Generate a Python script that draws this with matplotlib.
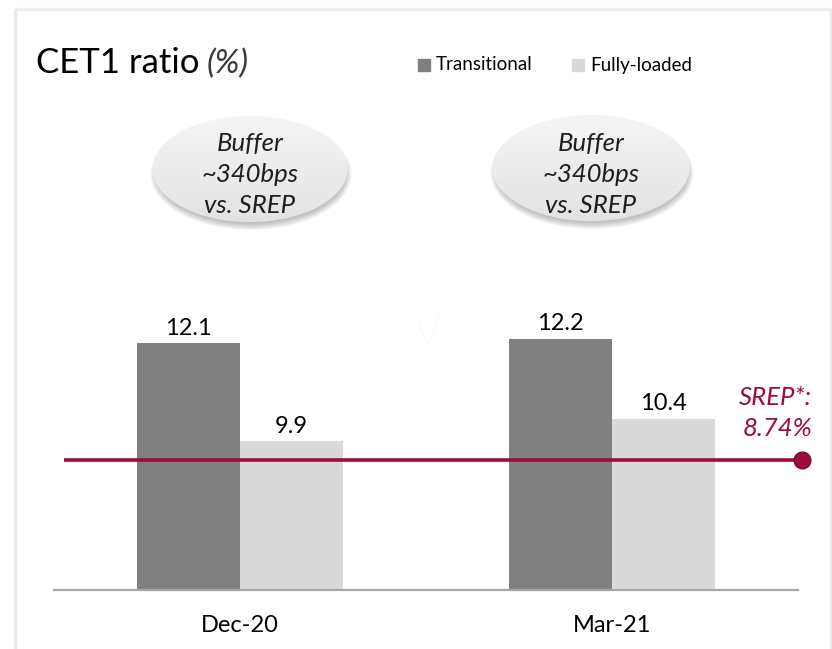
import matplotlib
matplotlib.use('Agg')
import matplotlib.pyplot as plt
import numpy as np
from matplotlib.patches import Ellipse, Rectangle
from matplotlib.colors import LinearSegmentedColormap
import matplotlib.transforms as mtransforms

# ---------------- data ----------------
categories = ['Dec-20', 'Mar-21']
series_names = ['Transitional', 'Fully-loaded']
transitional = [12.1, 12.2]
fully_loaded = [9.9, 10.4]
srep_value = 8.74
srep_label = ['SREP*:', f'{srep_value:.2f}%']
buffer_lines = [['Buffer', '~340bps', 'vs. SREP'],
                ['Buffer', '~340bps', 'vs. SREP']]
title_main = 'CET1 ratio'
title_unit = '(%)'

# ---------------- style ----------------
plt.rcParams['font.family'] = ['Lato', 'DejaVu Sans']
C_TRANS = '#808080'
C_FULL = '#d9d9d9'
C_SREP = '#9e0b3c'

W, H = 832, 649
fig = plt.figure(figsize=(W / 100, H / 100), dpi=100)

# overlay axes in pixel coordinates for decorations
ov = fig.add_axes([0, 0, 1, 1], zorder=0)
ov.set_xlim(0, W)
ov.set_ylim(H, 0)
ov.axis('off')

# main bar axes
def fx(px):
    return px / W

ax = fig.add_axes([fx(54), 1 - 590 / H, fx(798) - fx(54), (590 - 100) / H], zorder=1)
ax.patch.set_visible(False)
x = np.arange(len(categories))
bw = 103 / 371
ax.bar(x - bw / 2, transitional, bw, color=C_TRANS, zorder=2, label=series_names[0])
ax.bar(x + bw / 2, fully_loaded, bw, color=C_FULL, zorder=2, label=series_names[1])
ymin = 6.55
ax.set_ylim(ymin, ymin + 490 / 44.5)
ax.set_xlim(-0.5, 1.5)
for s in ['top', 'right', 'left']:
    ax.spines[s].set_visible(False)
ax.spines['bottom'].set_color('#a6a6a6')
ax.spines['bottom'].set_linewidth(1.6)
ax.set_yticks([])
ax.set_xticks(x)
ax.set_xticklabels(categories, fontsize=17, color='black')
ax.tick_params(axis='x', length=0, pad=18)

for xi, v in zip(x, transitional):
    ax.annotate(f'{v}', (xi - bw / 2, v), xytext=(0, 6), textcoords='offset points',
                ha='center', va='baseline', fontsize=17, color='black')
for xi, v in zip(x, fully_loaded):
    ax.annotate(f'{v}', (xi + bw / 2, v), xytext=(0, 6), textcoords='offset points',
                ha='center', va='baseline', fontsize=17, color='black')

# SREP line (drawn as annotation line, positioned as in the reference)
trans = mtransforms.blended_transform_factory(ax.transData, ax.transAxes)
srep_y = 0.2653
ax.plot([-0.474, 1.512], [srep_y, srep_y], color=C_SREP, lw=2.6, transform=trans,
        clip_on=False, zorder=3, solid_capstyle='butt')
ax.plot([1.512], [srep_y], marker='o', markersize=12, color=C_SREP,
        markeredgecolor='#7a0a2e', markeredgewidth=1, transform=trans, clip_on=False, zorder=4)

ov.text(812, 405, srep_label[0], ha='right', va='baseline', fontsize=18.5,
        style='italic', color=C_SREP)
ov.text(812, 436, srep_label[1], ha='right', va='baseline', fontsize=18.5,
        style='italic', color=C_SREP)

# frame
ov.plot([15, 15], [H, 9], color='#ededed', lw=2.4, solid_capstyle='butt')
ov.plot([15, 831], [9, 9], color='#ededed', lw=2.4, solid_capstyle='butt')
ov.plot([831, 831], [9, H], color='#ededed', lw=2.4, solid_capstyle='butt')

# title
ov.text(36, 73, title_main, ha='left', va='baseline', fontsize=25, color='black')
ov.text(207, 73, title_unit, ha='left', va='baseline', fontsize=24, color='#3a3a3a',
        style='italic')

# legend
ov.add_patch(Rectangle((418, 59), 12, 12, color=C_TRANS))
ov.text(436, 65, series_names[0], ha='left', va='center', fontsize=13.5, color='black')
ov.add_patch(Rectangle((572, 59), 12, 12, color=C_FULL))
ov.text(590, 65, series_names[1], ha='left', va='center', fontsize=13.5, color='black')

# faint V
ov.text(426, 334, 'V', ha='center', va='center', fontsize=30, color='#f0f0f0',
        fontweight='light')

# buffer ellipses
cmap = LinearSegmentedColormap.from_list('g', ['#f5f5f5', '#e3e3e3'])
grad = np.linspace(0, 1, 200).reshape(-1, 1)
ell_geo = [(250, 169, 195, 106), (591, 168, 197, 106)]
for (cx, cy, w, h), lines in zip(ell_geo, buffer_lines):
    for j in range(7):
        sh = Ellipse((cx + 1, cy + 5), w - 6 + 2 * j, h - 6 + 2 * j,
                     facecolor='#444444', edgecolor='none', alpha=0.05, zorder=1)
        ov.add_patch(sh)
    e = Ellipse((cx, cy), w, h, facecolor='none', edgecolor='none', zorder=2)
    ov.add_patch(e)
    im = ov.imshow(grad, cmap=cmap, extent=(cx - w / 2, cx + w / 2, cy + h / 2, cy - h / 2),
                   aspect='auto', zorder=2, interpolation='bilinear')
    im.set_clip_path(e)
    for yb, line in zip([151, 182.5, 213], lines):
        ov.text(cx, yb, line, ha='center', va='baseline', fontsize=18.5, style='italic',
                color='#1e1e1e', zorder=3)

ov.set_xlim(0, W)
ov.set_ylim(H, 0)

fig.savefig('out.png', dpi=100)
